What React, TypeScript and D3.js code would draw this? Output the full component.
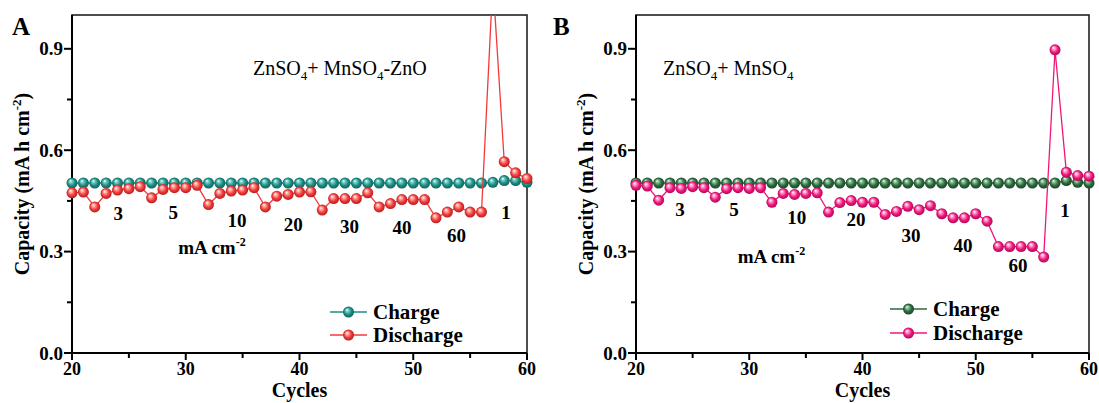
import * as d3 from "d3";

// cycle numbers (x) shared by both panels
const cycles = [
  20, 21, 22, 23, 24, 25, 26, 27, 28, 29, 30, 31, 32, 33, 34, 35, 36, 37, 38, 39, 40,
  41, 42, 43, 44, 45, 46, 47, 48, 49, 50, 51, 52, 53, 54, 55, 56, 57, 58, 59, 60,
];

// panel A : ZnSO4 + MnSO4-ZnO
const chargeA = [
  0.503, 0.503, 0.503, 0.503, 0.503, 0.503, 0.503, 0.503, 0.503, 0.503, 0.503,
  0.503, 0.503, 0.503, 0.503, 0.503, 0.503, 0.503, 0.503, 0.503, 0.503, 0.503,
  0.503, 0.503, 0.503, 0.503, 0.503, 0.503, 0.503, 0.503, 0.503, 0.503, 0.503,
  0.503, 0.503, 0.503, 0.503, 0.505, 0.51, 0.51, 0.505,
];
const dischargeA = [
  0.474, 0.476, 0.432, 0.472, 0.482, 0.486, 0.492, 0.459, 0.484, 0.489, 0.489,
  0.496, 0.439, 0.472, 0.479, 0.482, 0.489, 0.432, 0.464, 0.469, 0.476, 0.477,
  0.423, 0.457, 0.457, 0.457, 0.474, 0.432, 0.442, 0.454, 0.454, 0.454, 0.4,
  0.417, 0.432, 0.417, 0.417, 1.1, 0.566, 0.533, 0.516,
];

// panel B : ZnSO4 + MnSO4
const chargeB = [
  0.503, 0.503, 0.503, 0.503, 0.503, 0.503, 0.503, 0.503, 0.503, 0.503, 0.503,
  0.503, 0.503, 0.503, 0.503, 0.503, 0.503, 0.503, 0.503, 0.503, 0.503, 0.503,
  0.503, 0.503, 0.503, 0.503, 0.503, 0.503, 0.503, 0.503, 0.503, 0.503, 0.503,
  0.503, 0.503, 0.503, 0.503, 0.503, 0.51, 0.505, 0.503,
];
const dischargeB = [
  0.496, 0.494, 0.452, 0.489, 0.487, 0.492, 0.489, 0.461, 0.486, 0.489, 0.487,
  0.489, 0.446, 0.472, 0.469, 0.472, 0.474, 0.417, 0.445, 0.451, 0.446, 0.446,
  0.41, 0.419, 0.434, 0.424, 0.436, 0.412, 0.4, 0.4, 0.412, 0.39, 0.315,
  0.315, 0.315, 0.315, 0.284, 0.897, 0.535, 0.525, 0.523,
];

const xTicks = [20, 30, 40, 50, 60];
const xMinorTicks = [25, 35, 45, 55];
const yTicks = [0.0, 0.3, 0.6, 0.9];
const yMinorTicks = [0.15, 0.45, 0.75];
const rateLabels = ["3", "5", "10", "20", "30", "40", "60", "1"];

const W = 1099;
const H = 403;
const TOP = 15;
const BOTTOM = 353;
const FONT = "'Liberation Serif', 'Times New Roman', serif";

type PanelCfg = {
  id: string;
  left: number;
  right: number;
  letterX: number;
  title: string[];
  titleX: number;
  charge: number[];
  discharge: number[];
  chargeColor: string[];
  dischargeColor: string[];
  ratePos: number[][];
  unitPos: number[];
  legendX: number;
  legendY: number[];
};

const panels: PanelCfg[] = [
  {
    id: "A",
    left: 72,
    right: 527,
    letterX: 12,
    title: ["ZnSO", "4", "+ MnSO", "4", "-ZnO"],
    titleX: 253,
    charge: chargeA,
    discharge: dischargeA,
    chargeColor: ["#7fd3c9", "#1b8c83", "#0c5c55"],
    dischargeColor: ["#ffb0a8", "#f23a3a", "#a81818"],
    ratePos: [
      [24.07, 0.412], [28.9, 0.415], [34.5, 0.393], [39.45, 0.38],
      [44.4, 0.374], [49.0, 0.371], [53.8, 0.347], [58.15, 0.415],
    ],
    unitPos: [32.3, 0.312],
    legendX: 330,
    legendY: [312, 335],
  },
  {
    id: "B",
    left: 636,
    right: 1089,
    letterX: 553,
    title: ["ZnSO", "4", "+ MnSO", "4", ""],
    titleX: 663,
    charge: chargeB,
    discharge: dischargeB,
    chargeColor: ["#8fc29c", "#2d6a3e", "#163d22"],
    dischargeColor: ["#ffa8d0", "#f0167c", "#a00850"],
    ratePos: [
      [23.89, 0.424], [28.65, 0.424], [34.19, 0.401], [39.43, 0.395],
      [44.28, 0.348], [48.87, 0.318], [53.73, 0.258], [57.88, 0.422],
    ],
    unitPos: [31.96, 0.285],
    legendX: 890,
    legendY: [309, 333],
  },
];

function Gradient({ id, c }: { id: string; c: string[] }) {
  return (
    <radialGradient id={id} cx="50%" cy="50%" r="55%" fx="35%" fy="30%">
      <stop offset="0%" stopColor="#ffffff" />
      <stop offset="22%" stopColor={c[0]} />
      <stop offset="60%" stopColor={c[1]} />
      <stop offset="100%" stopColor={c[2]} />
    </radialGradient>
  );
}

function Panel({ p }: { p: PanelCfg }) {
  const x = d3.scaleLinear().domain([20, 60]).range([p.left, p.right]);
  const y = d3.scaleLinear().domain([0, 1.0]).range([BOTTOM, TOP]);
  const line = d3
    .line<number>()
    .x((_, i) => x(cycles[i]))
    .y((d) => y(d));
  const r = 5.5;
  const midX = (p.left + p.right) / 2;
  const midY = (TOP + BOTTOM) / 2;
  const cg = `grad-c-${p.id}`;
  const dg = `grad-d-${p.id}`;
  const clip = `clip-${p.id}`;

  return (
    <g>
      <defs>
        <Gradient id={cg} c={p.chargeColor} />
        <Gradient id={dg} c={p.dischargeColor} />
        <clipPath id={clip}>
          <rect x={p.left - 20} y={TOP} width={p.right - p.left + 40} height={BOTTOM - TOP + 20} />
        </clipPath>
      </defs>

      {/* frame */}
      <rect x={p.left} y={TOP} width={p.right - p.left} height={BOTTOM - TOP} fill="none" stroke="#222" strokeWidth={1.6} />
      <line x1={p.left} x2={p.right} y1={BOTTOM} y2={BOTTOM} stroke="#000" strokeWidth={2} />
      <line x1={p.left} x2={p.left} y1={TOP} y2={BOTTOM} stroke="#000" strokeWidth={2} />

      {/* x axis */}
      {xTicks.map((t) => (
        <g key={"xt" + t}>
          <line x1={x(t)} x2={x(t)} y1={BOTTOM} y2={BOTTOM + 7} stroke="#000" strokeWidth={2} />
          <text x={x(t)} y={375} textAnchor="middle" fontSize={18} fontWeight="bold" fontFamily={FONT}>
            {t}
          </text>
        </g>
      ))}
      {xMinorTicks.map((t) => (
        <line key={"xm" + t} x1={x(t)} x2={x(t)} y1={BOTTOM} y2={BOTTOM + 5} stroke="#000" strokeWidth={2} />
      ))}
      <text x={midX} y={397} textAnchor="middle" fontSize={20} fontWeight="bold" fontFamily={FONT}>
        Cycles
      </text>

      {/* y axis */}
      {yTicks.map((t) => (
        <g key={"yt" + t}>
          <line x1={p.left - 8} x2={p.left} y1={y(t)} y2={y(t)} stroke="#000" strokeWidth={2} />
          <text x={p.left - 9} y={y(t)} dy="0.35em" textAnchor="end" fontSize={19} fontWeight="bold" fontFamily={FONT}>
            {t.toFixed(1)}
          </text>
        </g>
      ))}
      {yMinorTicks.map((t) => (
        <line key={"ym" + t} x1={p.left - 5} x2={p.left} y1={y(t)} y2={y(t)} stroke="#000" strokeWidth={2} />
      ))}
      <text
        transform={`translate(${p.left - 50},${midY}) rotate(-90)`}
        dy="0.35em"
        textAnchor="middle"
        fontSize={20}
        fontWeight="bold"
        fontFamily={FONT}
      >
        Capacity  (mA h cm
        <tspan fontSize={13} dy={-8}>-2</tspan>
        <tspan dy={8}>)</tspan>
      </text>

      {/* panel letter */}
      <text x={p.letterX} y={35} fontSize={25} fontWeight="bold" fontFamily={FONT}>
        {p.id}
      </text>

      {/* title */}
      <text x={p.titleX} y={75} fontSize={20} fontFamily={FONT}>
        {p.title[0]}
        <tspan fontSize={13} dy={5}>{p.title[1]}</tspan>
        <tspan dy={-5}>{p.title[2]}</tspan>
        <tspan fontSize={13} dy={5}>{p.title[3]}</tspan>
        <tspan dy={-5}>{p.title[4]}</tspan>
      </text>

      {/* data */}
      <g clipPath={`url(#${clip})`}>
        <path d={line(p.charge) || ""} fill="none" stroke={p.chargeColor[1]} strokeWidth={1.3} />
        {p.charge.map((v, i) => (
          <circle key={"c" + i} cx={x(cycles[i])} cy={y(v)} r={r} fill={`url(#${cg})`} />
        ))}
        <path d={line(p.discharge) || ""} fill="none" stroke={p.dischargeColor[1]} strokeWidth={1.3} />
        {p.discharge.map((v, i) => (
          <circle key={"d" + i} cx={x(cycles[i])} cy={y(v)} r={r} fill={`url(#${dg})`} />
        ))}
      </g>

      {/* current density labels */}
      {rateLabels.map((l, i) => (
        <text
          key={"rl" + i}
          x={x(p.ratePos[i][0])}
          y={y(p.ratePos[i][1])}
          dy="0.35em"
          textAnchor="middle"
          fontSize={19}
          fontWeight="bold"
          fontFamily={FONT}
        >
          {l}
        </text>
      ))}
      <text
        x={x(p.unitPos[0])}
        y={y(p.unitPos[1])}
        dy="0.35em"
        textAnchor="middle"
        fontSize={19}
        fontWeight="bold"
        fontFamily={FONT}
      >
        mA cm
        <tspan fontSize={12} dy={-8}>-2</tspan>
      </text>

      {/* legend */}
      {[
        { label: "Charge", color: p.chargeColor[1], grad: cg },
        { label: "Discharge", color: p.dischargeColor[1], grad: dg },
      ].map((item, i) => (
        <g key={"lg" + i}>
          <line x1={p.legendX} x2={p.legendX + 37} y1={p.legendY[i]} y2={p.legendY[i]} stroke={item.color} strokeWidth={1.5} />
          <circle cx={p.legendX + 18.5} cy={p.legendY[i]} r={r} fill={`url(#${item.grad})`} />
          <text x={p.legendX + 43} y={p.legendY[i]} dy="0.35em" fontSize={21} fontWeight="bold" fontFamily={FONT}>
            {item.label}
          </text>
        </g>
      ))}
    </g>
  );
}

export default function App() {
  return (
    <svg
      width={W}
      height={H}
      viewBox={`0 0 ${W} ${H}`}
      style={{ position: "absolute", left: 0, top: 0, background: "#fff" }}
    >
      {panels.map((p) => (
        <Panel key={p.id} p={p} />
      ))}
    </svg>
  );
}
